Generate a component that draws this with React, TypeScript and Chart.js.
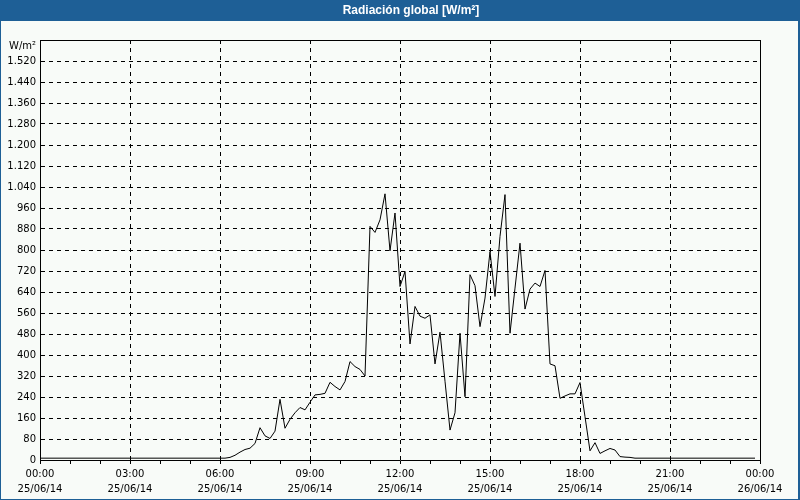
import React, { useEffect, useRef } from "react";
import { Chart, registerables } from "chart.js";

Chart.register(...registerables);

// Sampling: one reading every 10 minutes from 00:00 (25/06/14)
const SAMPLE_STEP_MIN = 10;

// Global radiation, W/m², one row per hour (6 readings each)
const radiation: number[] = [
  7, 7, 7, 7, 7, 7, // 00
  7, 7, 7, 7, 7, 7, // 01
  7, 7, 7, 7, 7, 7, // 02
  7, 7, 7, 7, 7, 7, // 03
  7, 7, 7, 7, 7, 7, // 04
  7, 7, 7, 7, 7, 7, // 05
  7, 7, 10, 18, 30, 40, // 06
  45, 63, 123, 92, 82, 110, // 07
  231, 121, 155, 180, 200, 191, // 08
  220, 248, 250, 254, 296, 280, // 09
  267, 299, 375, 356, 345, 320, // 10
  890, 867, 915, 1014, 797, 941, // 11
  661, 718, 442, 585, 548, 540, // 12
  553, 366, 487, 300, 114, 180, // 13
  483, 241, 706, 664, 508, 617, // 14
  794, 623, 852, 1011, 483, 655, // 15
  826, 575, 651, 674, 661, 722, // 16
  366, 359, 235, 244, 252, 252, // 17
  295, 165, 35, 66, 25, 35, // 18
  44, 38, 13, 11, 10, 7, // 19
  7, 7, 7, 7, 7, 7, // 20
  7, 7, 7, 7, 7, 7, // 21
  7, 7, 7, 7, 7, 7, // 22
  7, 7, 7, 7, 7, 7, // 23
];

// X-axis tick labels (every 3 hours)
const xTickTimes = ["00:00", "03:00", "06:00", "09:00", "12:00", "15:00", "18:00", "21:00", "00:00"];
const xTickDates = ["25/06/14", "25/06/14", "25/06/14", "25/06/14", "25/06/14", "25/06/14", "25/06/14", "25/06/14", "26/06/14"];

const TITLE = "Radiación global [W/m²]";
const Y_UNIT = "W/m²";
const Y_MAX = 1600;
const Y_STEP = 80;

const BLUE = "#1e5f96";
const BG = "#f8fbf8";

function fmtThousands(v: number): string {
  const s = String(Math.round(v));
  return s.replace(/\B(?=(\d{3})+(?!\d))/g, ".");
}

const framePlugin = {
  id: "frame",
  beforeDraw(chart: any) {
    const { ctx, width, height } = chart;
    ctx.save();
    ctx.fillStyle = BG;
    ctx.fillRect(0, 0, width, height);
    ctx.fillStyle = BLUE;
    ctx.fillRect(0, 0, width, 21);
    ctx.fillRect(0, 0, 1, height);
    ctx.fillRect(width - 2, 0, 2, height);
    ctx.fillRect(0, height - 1, width, 1);
    ctx.fillStyle = "#ffffff";
    ctx.font = 'bold 12px "Liberation Sans"';
    ctx.textAlign = "center";
    ctx.textBaseline = "middle";
    ctx.fillText(TITLE, 411, 11);
    ctx.restore();
  },
  afterDraw(chart: any) {
    const { ctx, chartArea } = chart;
    ctx.save();
    ctx.strokeStyle = "#000";
    ctx.lineWidth = 1;
    ctx.setLineDash([]);
    ctx.beginPath();
    ctx.moveTo(chartArea.left, chartArea.top + 0.5);
    ctx.lineTo(chartArea.right + 0.5, chartArea.top + 0.5);
    ctx.lineTo(chartArea.right + 0.5, chartArea.bottom);
    ctx.stroke();
    ctx.fillStyle = "#000";
    ctx.font = '10px "DejaVu Sans"';
    ctx.textAlign = "right";
    ctx.textBaseline = "middle";
    ctx.fillText(Y_UNIT, chartArea.left - 4, chartArea.top + 6);
    ctx.restore();
  },
};

export default function App() {
  const ref = useRef<HTMLCanvasElement | null>(null);

  useEffect(() => {
    if (!ref.current) return;
    const points = radiation.map((v, i) => ({ x: i * SAMPLE_STEP_MIN, y: v }));
    Chart.defaults.font.family = '"DejaVu Sans"';
    Chart.defaults.font.size = 10;
    Chart.defaults.color = "#000";
    const chart = new Chart(ref.current, {
      type: "line",
      data: {
        datasets: [
          {
            data: points,
            borderColor: "#000",
            borderWidth: 1,
            pointRadius: 0,
            tension: 0,
            fill: false,
          },
        ],
      },
      plugins: [framePlugin],
      options: {
        animation: false,
        responsive: false,
        devicePixelRatio: 1,
        layout: { padding: { left: 0, top: 40, right: 40, bottom: 0 } },
        plugins: {
          legend: { display: false },
          tooltip: { enabled: false },
          title: { display: false },
        },
        scales: {
          x: {
            type: "linear",
            min: 0,
            max: 1440,
            afterFit: (s: any) => {
              s.height = 40;
            },
            ticks: {
              stepSize: 60,
              autoSkip: false,
              maxRotation: 0,
              padding: 3,
              font: { size: 10, lineHeight: 1.5 },
              callback: (v: any) => {
                const n = Number(v);
                if (n % 180 !== 0) return "";
                const k = n / 180;
                return [xTickTimes[k], xTickDates[k]];
              },
            },
            grid: {
              color: (c: any) =>
                c.tick && c.tick.value % 180 === 0 ? "#000" : "rgba(0,0,0,0)",
              tickColor: "#000",
              tickLength: 4,
              lineWidth: 1,
            },
            border: { color: "#000", width: 1, dash: [4, 4] },
          },
          y: {
            min: 0,
            max: Y_MAX,
            afterFit: (s: any) => {
              s.width = 40;
            },
            ticks: {
              stepSize: Y_STEP,
              padding: 4,
              callback: (v: any) => (Number(v) >= Y_MAX ? "" : fmtThousands(Number(v))),
            },
            grid: {
              color: "#000",
              drawTicks: false,
              lineWidth: 1,
            },
            border: { color: "#000", width: 1, dash: [4, 4] },
          },
        },
      },
    } as any);
    return () => chart.destroy();
  }, []);

  return (
    <div style={{ position: "fixed", left: 0, top: 0, width: 800, height: 500 }}>
      <canvas ref={ref} width={800} height={500} style={{ display: "block", width: 800, height: 500 }} />
    </div>
  );
}
